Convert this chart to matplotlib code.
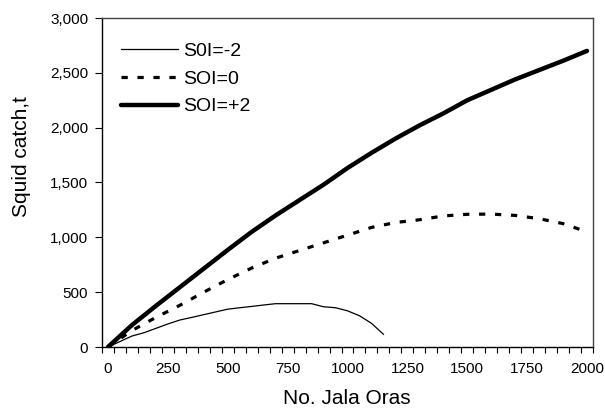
import numpy as np
import matplotlib
matplotlib.use("Agg")
import matplotlib.pyplot as plt
from matplotlib.ticker import FuncFormatter

plt.rcParams['font.family'] = ['Liberation Sans', 'DejaVu Sans']
plt.rcParams['lines.scale_dashes'] = False

# Data
x_neg = [0, 50, 100, 150, 200, 250, 300, 350, 400, 450, 500, 550, 600, 650, 700,
         750, 800, 850, 900, 950, 1000, 1050, 1100, 1150]
y_neg = [0, 50, 100, 130, 170, 210, 246, 270, 295, 320, 345, 358, 370, 383, 395,
         395, 395, 395, 367, 358, 330, 285, 216, 116]

x_zero = [0, 100, 200, 300, 400, 500, 600, 700, 800, 900, 1000, 1100, 1200, 1300,
          1400, 1500, 1600, 1700, 1800, 1900, 2000]
y_zero = [0, 150, 270, 380, 500, 615, 720, 810, 880, 950, 1020, 1090, 1135, 1160,
          1195, 1210, 1212, 1200, 1170, 1125, 1050]

x_pos = [0, 100, 200, 300, 400, 500, 600, 700, 800, 900, 1000, 1100, 1200, 1300,
         1400, 1500, 1600, 1700, 1800, 1900, 2000]
y_pos = [0, 200, 375, 545, 715, 885, 1050, 1200, 1340, 1480, 1632, 1770, 1900, 2020,
         2130, 2250, 2345, 2440, 2525, 2610, 2700]

labels = ['S0I=-2', 'SOI=0', 'SOI=+2']
x_ticks = [0, 250, 500, 750, 1000, 1250, 1500, 1750, 2000]
y_ticks = [0, 500, 1000, 1500, 2000, 2500, 3000]

fig = plt.figure(figsize=(6.05, 4.15), dpi=100)
ax = fig.add_axes([102/605, 1-347/415, 491/605, 329/415])

ax.plot(x_neg, y_neg, color='black', lw=0.9, label=labels[0])
ax.plot(x_zero, y_zero, color='black', lw=2.3, dashes=(4.5, 7.0), label=labels[1])
ax.plot(x_pos, y_pos, color='black', lw=3.2, label=labels[2], solid_capstyle='round')

ax.set_xlim(-25, 2025)
ax.set_ylim(0, 3000)
ax.set_xticks(x_ticks)
ax.set_xticks(np.arange(-25, 2026, 50), minor=True)
ax.set_yticks(y_ticks)
ax.yaxis.set_major_formatter(FuncFormatter(lambda v, p: f"{int(v):,}"))

ax.tick_params(axis='x', which='major', length=0, pad=11, labelsize=11)
ax.tick_params(axis='x', which='minor', length=4, width=0.8, direction='out')
ax.tick_params(axis='y', which='major', length=5, width=0.8, direction='out', pad=5, labelsize=11)

for s in ['left', 'bottom']:
    ax.spines[s].set_color('black')
    ax.spines[s].set_linewidth(1.0)
for s in ['right', 'top']:
    ax.spines[s].set_color('#444444')
    ax.spines[s].set_linewidth(1.0)

ax.set_xlabel('No. Jala Oras', fontsize=15)
ax.set_ylabel('Squid catch,t', fontsize=15)
ax.xaxis.set_label_coords(0.499, -0.128)
ax.yaxis.set_label_coords(-0.144, 0.58)

leg = ax.legend(loc='upper left', frameon=False, fontsize=14, handlelength=2.95,
                handletextpad=0.25, labelspacing=0.53, borderpad=0,
                bbox_to_anchor=(0.0387, 0.927), borderaxespad=0)

fig.savefig('out.png', dpi=100)
